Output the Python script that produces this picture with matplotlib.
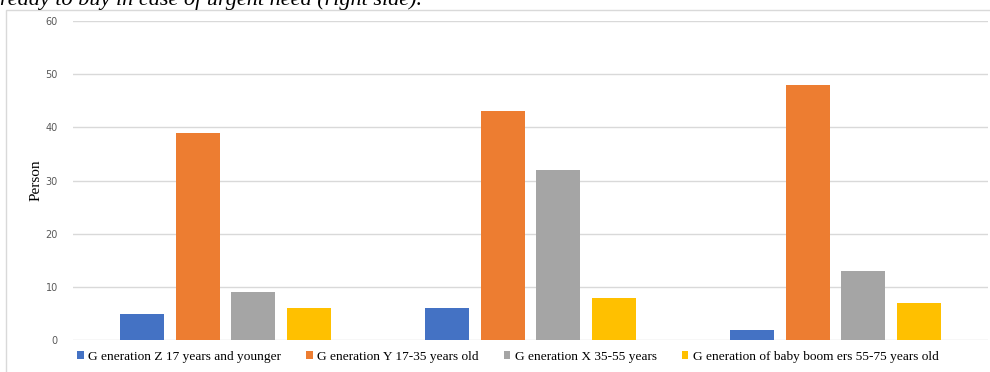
import matplotlib.pyplot as plt
import numpy as np
from matplotlib.patches import Rectangle

# values (persons per generation, three groups)
groups = ["1", "2", "3"]
gen_z = [5, 6, 2]
gen_y = [39, 43, 48]
gen_x = [9, 32, 13]
boomers = [6, 8, 7]
series_names = ["G eneration Z 17 years and younger",
                "G eneration Y 17-35 years old",
                "G eneration X 35-55 years",
                "G eneration of baby boom ers 55-75 years old"]
y_ticks = [0, 10, 20, 30, 40, 50, 60]

colors = ["#4472C4", "#ED7D31", "#A5A5A5", "#FFC000"]

fig = plt.figure(figsize=(9.9, 3.72), dpi=100)

# caption text cut off at the top of the screenshot
fig.text(0.0, 1 - 5 / 372, "ready to buy in case of urgent need (right side).",
         fontsize=16, family="Liberation Serif", style="italic", va="baseline", ha="left")

# chart frame
fig.patches.append(Rectangle((6 / 990, -0.1), 1.2, 1 - 10 / 372 + 0.1, transform=fig.transFigure,
                             fill=False, edgecolor="#D9D9D9", linewidth=1))

ax = fig.add_axes([73 / 990, 1 - 340.2 / 372, 915 / 990, 319.2 / 372])

x = np.arange(len(groups))
width = 0.144
step = 0.182
all_series = [gen_z, gen_y, gen_x, boomers]
for i, vals in enumerate(all_series):
    ax.bar(x + (i - 1.5) * step, vals, width, color=colors[i], label=series_names[i], zorder=3)

ax.set_xlim(-0.5, 2.5)
ax.set_ylim(0, 60)
ax.set_yticks(y_ticks)
ax.set_xticks([])
ax.grid(axis="y", color="#D9D9D9", linewidth=1, zorder=0)
for s in ax.spines.values():
    s.set_visible(False)
ax.tick_params(axis="y", length=0, pad=11, labelsize=7, labelcolor="#595959")

ax.set_ylabel("Person", family="Liberation Serif", fontsize=11, labelpad=2)

fig.legend(loc="center", bbox_to_anchor=(0.513, 1 - 357 / 372), ncol=4, frameon=False,
           prop={"family": "Liberation Serif", "size": 9.6}, handlelength=0.5, handleheight=0.5,
           handletextpad=0.35, columnspacing=1.85)

fig.savefig("out.png", dpi=100)
